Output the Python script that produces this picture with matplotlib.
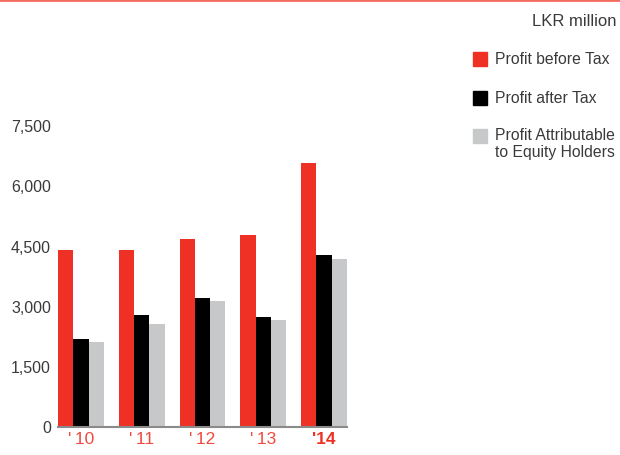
import matplotlib.pyplot as plt
import matplotlib.patches as mpatches
import numpy as np

# Profit figures, LKR million
years = ["'10", "'11", "'12", "'13", "'14"]
profit_before_tax = [4390, 4390, 4660, 4760, 6555]
profit_after_tax = [2175, 2770, 3195, 2720, 4265]
profit_equity = [2100, 2545, 3120, 2645, 4165]
yticks = [0, 1500, 3000, 4500, 6000, 7500]

series = [profit_before_tax, profit_after_tax, profit_equity]
names = ["Profit before Tax", "Profit after Tax",
         "Profit Attributable\nto Equity Holders"]
colors = ["#ee3124", "#000000", "#c7c8ca"]

plt.rcParams['font.family'] = ['Liberation Sans', 'DejaVu Sans']

fig = plt.figure(figsize=(6.2, 4.56), dpi=100)
ax = fig.add_axes([58 / 620, 1 - 427.5 / 456, 289 / 620, 301.5 / 456])

x = np.arange(len(years))
w = 0.252
for i, (vals, col) in enumerate(zip(series, colors)):
    ax.bar(x + (i - 1) * w, vals, width=w, color=col, linewidth=0)

ax.set_xlim(-0.38, 4.38)
ax.set_ylim(0, 7500)
ax.set_yticks(yticks)
ax.set_yticklabels([f"{v:,}" for v in yticks], fontsize=11.5, color="#3a3a3a")
ax.set_xticks(x)
ax.set_xticklabels([y.replace("'", "'\u2009") if i < 4 else y
                    for i, y in enumerate(years)],
                   fontsize=12.5, color="#f04a3e")
ax.get_xticklabels()[-1].set_fontweight("bold")
ax.get_xticklabels()[-1].set_color("#ee3124")
ax.tick_params(length=0)
ax.tick_params(axis='y', pad=5)
ax.tick_params(axis='x', pad=3)
for s in ["top", "right", "left"]:
    ax.spines[s].set_visible(False)
ax.spines["bottom"].set_color("#8a8a8a")
ax.spines["bottom"].set_linewidth(1.5)

# red rule along the top edge
fig.add_artist(plt.Line2D([0, 1], [0.998, 0.998], color="#f26b5e",
                          linewidth=2, transform=fig.transFigure))

fig.text(617 / 620, 1 - 22 / 456, "LKR million", ha="right", va="center",
         fontsize=12, color="#3a3a3a")

# legend drawn by hand
legend_y = [60, 99, 137]
for yy, name, col in zip(legend_y, names, colors):
    fig.add_artist(mpatches.Rectangle((473 / 620, 1 - (yy + 7) / 456),
                                      14 / 620, 14 / 456, color=col,
                                      transform=fig.transFigure))
    if "\n" in name:
        fig.text(495 / 620, 1 - (yy - 9) / 456, name, ha="left", va="top",
                 fontsize=11.3, color="#3a3a3a", linespacing=1.2)
    else:
        fig.text(495 / 620, 1 - yy / 456, name, ha="left", va="center",
                 fontsize=11.3, color="#3a3a3a")

fig.savefig("out.png", dpi=100)
